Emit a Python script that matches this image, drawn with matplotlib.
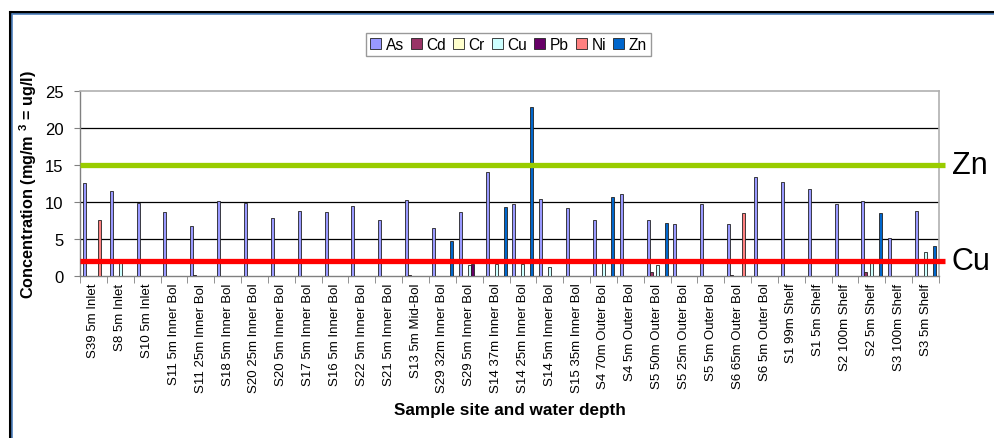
import matplotlib
matplotlib.use("Agg")
import matplotlib.pyplot as plt
import numpy as np
from matplotlib.lines import Line2D

plt.rcParams['font.family'] = ['Liberation Sans', 'DejaVu Sans']
plt.rcParams['mathtext.fontset'] = 'custom'
plt.rcParams['mathtext.rm'] = 'Liberation Sans'
plt.rcParams['mathtext.bf'] = 'Liberation Sans:bold'

sites = ["S39 5m Inlet", "S8 5m Inlet", "S10 5m Inlet", "S11 5m Inner Bol", "S11 25m Inner Bol",
         "S18 5m Inner Bol", "S20 25m Inner Bol", "S20 5m Inner Bol", "S17 5m Inner Bol",
         "S16 5m Inner Bol", "S22 5m Inner Bol", "S21 5m Inner Bol", "S13 5m Mid-Bol",
         "S29 32m Inner Bol", "S29 5m Inner Bol", "S14 37m Inner Bol", "S14 25m Inner Bol",
         "S14 5m Inner Bol", "S15 35m Inner Bol", "S4 70m Outer Bol", "S4 5m Outer Bol",
         "S5 50m Outer Bol", "S5 25m Outer Bol", "S5 5m Outer Bol", "S6 65m Outer Bol",
         "S6 5m Outer Bol", "S1 99m Shelf", "S1 5m Shelf", "S2 100m Shelf", "S2 5m Shelf",
         "S3 100m Shelf", "S3 5m Shelf"]

metals = ["As", "Cd", "Cr", "Cu", "Pb", "Ni", "Zn"]

As = [12.6, 11.5, 9.9, 8.6, 6.76, 10.1, 9.9, 7.75, 8.7, 8.6, 9.4, 7.57, 10.3, 6.5, 8.57, 14.0,
      9.65, 10.4, 9.15, 7.48, 11.1, 7.6, 7.03, 9.65, 7.03, 13.34, 12.75, 11.8, 9.65, 10.1, 5.14, 8.7]
Cd = [0, 0, 0, 0, 0.1, 0, 0, 0, 0, 0, 0, 0, 0.15, 0, 0, 0,
      0, 0, 0, 0, 0, 0.45, 0, 0, 0.15, 0, 0, 0, 0, 0.45, 0, 0]
Cr = [0] * 32
Cu = [0, 2.3, 0, 0, 0, 0, 0, 0, 0, 0, 0, 0, 0, 0, 1.45, 1.58,
      1.58, 1.13, 0, 1.67, 0, 1.45, 0, 0, 0, 0, 0, 0, 0, 1.67, 0, 3.25]
Pb = [0, 0, 0, 0, 0, 0, 0, 0, 0, 0, 0, 0, 0, 0, 1.58, 0,
      0, 0, 0, 0, 0, 0, 0, 0, 0, 0, 0, 0, 0, 0, 0, 0]
Ni = [7.57, 0, 0, 0, 0, 0, 0, 0, 0, 0, 0, 0, 0, 0, 0, 0,
      0, 0, 0, 0, 0, 0, 0, 0, 8.43, 0, 0, 0, 0, 0, 0, 0]
Zn = [0, 0, 0, 0, 0, 0, 0, 0, 0, 0, 0, 0, 0, 4.65, 0, 9.28,
      22.85, 0, 0, 10.68, 0, 7.16, 0, 0, 0, 0, 0, 0, 0, 8.43, 0, 3.97]

guidelines = {"Zn": 15, "Cu": 2}

series = [As, Cd, Cr, Cu, Pb, Ni, Zn]
colors = ["#9999FF", "#993366", "#FFFFCC", "#CCFFFF", "#660066", "#FF8080", "#0066CC"]

W, H = 994, 439
fig = plt.figure(figsize=(W / 100, H / 100), dpi=100)
ax = fig.add_axes([80 / W, 1 - 276.7 / H, (939 - 80) / W, (276.7 - 92) / H])

n = len(sites)
centers = np.arange(n) + 0.5
bw = 3.0 / 26.84
for i, (vals, c, name) in enumerate(zip(series, colors, metals)):
    x = centers - 3.5 * bw + (i + 0.5) * bw
    v = np.array(vals, dtype=float)
    ax.bar(x, v, width=bw, color=c, edgecolor="#222222", linewidth=0.6, label=name, zorder=3)

ax.set_xlim(0, n)
ax.set_ylim(0, 25)
ax.set_yticks([0, 5, 10, 15, 20, 25])
ax.set_yticklabels(["0", "5", "10", "15", "20", "25"], fontsize=12)
for yv in [5, 10, 15, 20]:
    ax.axhline(yv, color="black", linewidth=0.9, zorder=1)

ax.set_xticks(np.arange(n + 1), minor=True)
ax.set_xticks(centers)
ax.set_xticklabels(sites, rotation=90, fontsize=9.5, va="top", ha="center")
ax.tick_params(axis="x", which="major", length=0, pad=5)
ax.tick_params(axis="x", which="minor", length=5, color="#808080", direction="out")
ax.tick_params(axis="y", length=4, color="#808080", direction="out", pad=8)

for s in ["top", "right"]:
    ax.spines[s].set_color("#b0b0b0")
    ax.spines[s].set_linewidth(1.2)
for s in ["left", "bottom"]:
    ax.spines[s].set_color("#808080")
    ax.spines[s].set_linewidth(1.0)

# guideline lines
ax.plot([0, 1.007], [guidelines["Zn"]] * 2, transform=ax.get_yaxis_transform(),
        color="#99CC00", linewidth=3.8, clip_on=False, zorder=5, solid_capstyle="butt")
ax.plot([0, 1.007], [guidelines["Cu"]] * 2, transform=ax.get_yaxis_transform(),
        color="#FF0000", linewidth=3.8, clip_on=False, zorder=5, solid_capstyle="butt")
ax.text(1.015, guidelines["Zn"], "Zn", transform=ax.get_yaxis_transform(),
        fontsize=22, va="center", ha="left")
ax.text(1.015, guidelines["Cu"], "Cu", transform=ax.get_yaxis_transform(),
        fontsize=22, va="center", ha="left")

fig.text(28 / W, 1 - 185 / H, "Concentration (mg/m $^{\\mathbf{3}}$ = ug/l)", rotation=90,
         fontsize=11.7, fontweight="bold", ha="center", va="center")
fig.text(510 / W, 1 - 411 / H, "Sample site and water depth", fontsize=12.3,
         fontweight="bold", ha="center", va="center")

handles, labels = ax.get_legend_handles_labels()
leg = fig.legend(handles, labels, loc="center", bbox_to_anchor=(508.5 / W, 1 - 45.5 / H),
                 ncol=7, fontsize=11.2, frameon=True, fancybox=False, edgecolor="#808080",
                 handlelength=0.7, handleheight=0.7, handletextpad=0.3, columnspacing=0.45,
                 borderpad=0.25, borderaxespad=0)
leg.get_frame().set_linewidth(1.0)

# outer frame
fig.add_artist(Line2D([9.5 / W, 1.0], [1 - 12.5 / H] * 2, color="black", linewidth=2.2))
fig.add_artist(Line2D([11.5 / W, 1.0], [1 - 14.5 / H] * 2, color="#4F81BD", linewidth=1.2))
fig.add_artist(Line2D([9.5 / W] * 2, [0, 1 - 12.5 / H], color="black", linewidth=2.2))
fig.add_artist(Line2D([11.5 / W] * 2, [0, 1 - 14.5 / H], color="#4F81BD", linewidth=1.2))

fig.savefig("out.png", dpi=100)
